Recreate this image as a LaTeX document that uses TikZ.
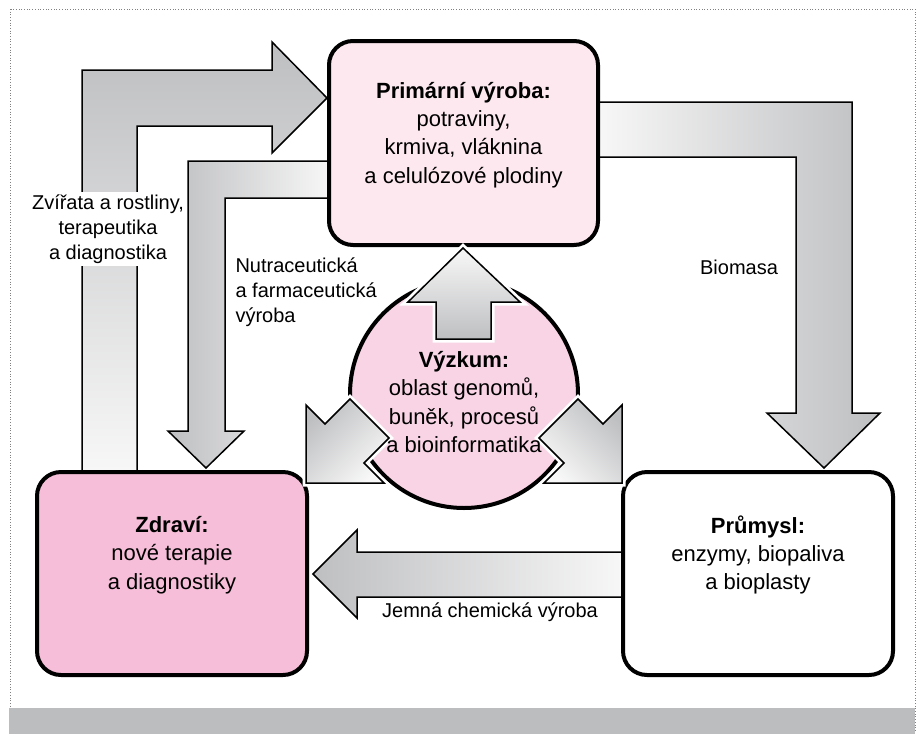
\documentclass[tikz,border=0pt]{standalone}
\usepackage{fontspec}
\setmainfont{Liberation Sans}
\definecolor{primpink}{HTML}{FDE8F0}
\definecolor{circpink}{HTML}{F9D4E5}
\definecolor{healthpink}{HTML}{F6BED8}
\definecolor{arrowgray}{HTML}{BEBFC1}
\definecolor{arrowlight}{HTML}{F8F8F8}
\definecolor{bandgray}{HTML}{BCBDBF}

\begin{document}
\begin{tikzpicture}[x=1pt, y=-1pt,
    sector/.style={draw, line width=4pt, rounded corners=24pt, minimum width=270pt, minimum height=203pt},
    boxtext/.style={align=center, font=\fontsize{22}{28.3}\selectfont},
    flowtext/.style={font=\fontsize{20}{25}\selectfont},
    blockarrow/.style={draw, line width=1.5pt, line join=miter},
    halo/.style={preaction={draw=white, line width=7pt, line join=miter}}]

    \useasboundingbox (0,0) rectangle (920,734);

    % Frame and grey band
    \draw[gray, dotted, line width=0.7pt] (10,9) rectangle (915,730);
    \fill[bandgray] (9,708) rectangle (915,734);

    % Health -> Primary (animals and plants)
    \draw[blockarrow, top color=arrowgray, bottom color=arrowlight]
        (82,478) -- (82,70) -- (272,70) -- (272,42) -- (327,98) -- (272,153)
        -- (272,126) -- (137,126) -- (137,478) -- cycle;

    % Primary -> Health (nutraceuticals)
    \draw[blockarrow, left color=arrowgray, right color=arrowlight]
        (333,161) -- (188,161) -- (188,431) -- (168,431) -- (206,468) -- (244,431)
        -- (225,431) -- (225,198) -- (333,198) -- cycle;

    % Primary -> Industry (biomass)
    \draw[blockarrow, left color=arrowlight, right color=arrowgray]
        (594,102) -- (852,102) -- (852,413) -- (880,413) -- (824,468) -- (767,413)
        -- (796,413) -- (796,157) -- (594,157) -- cycle;

    % Industry -> Health (fine chemicals)
    \draw[blockarrow, left color=arrowgray, right color=arrowlight]
        (627,552) -- (357,552) -- (357,530) -- (313,574) -- (357,618) -- (357,597)
        -- (627,597) -- cycle;

    % The three sectors
    \node[sector, fill=primpink, minimum width=269pt, minimum height=204pt] (primary) at (463.5,143) {};
    \node[sector, fill=healthpink] (health) at (172,573.5) {};
    \node[sector, fill=white] (industry) at (758,573.5) {};

    % Research in the middle
    \node[circle, draw, line width=4pt, fill=circpink, minimum size=228pt] (research) at (464,394) {};

    % Research -> Primary
    \draw[blockarrow, halo, top color=arrowlight, bottom color=arrowgray]
        (436,339) -- (436,302) -- (408,302) -- (463,248) -- (520,302) -- (491,302)
        -- (491,339) -- cycle;

    % Research -> Health
    \draw[blockarrow, halo, top color=arrowgray, bottom color=arrowlight, shading angle=45]
        (306,483) -- (306,405) -- (325,424) -- (350,399) -- (389,438) -- (364,463)
        -- (384,483) -- cycle;

    % Research -> Industry
    \draw[blockarrow, halo, top color=arrowgray, bottom color=arrowlight, shading angle=-45]
        (622,483) -- (622,405) -- (603,424) -- (578,399) -- (539,438) -- (564,463)
        -- (544,483) -- cycle;

    % Texts of the sectors
    \node[boxtext] (primtext) at (463.5,135) {\textbf{Primární výroba:}\\potraviny,\\krmiva, vláknina\\a celulózové plodiny};
    \node[boxtext] (healthtext) at (172,555) {\textbf{Zdraví:}\\nové terapie\\a diagnostiky};
    \node[boxtext] (industrytext) at (758,555) {\textbf{Průmysl:}\\enzymy, biopaliva\\a bioplasty};
    \node[boxtext] (researchtext) at (464,402) {\textbf{Výzkum:}\\oblast genomů,\\buněk, procesů\\a bioinformatika};

    % Flow labels
    \node[flowtext, align=center, fill=white, inner sep=3pt] (animals) at (108,229) {Zvířata a rostliny,\\terapeutika\\a diagnostika};
    \node[flowtext, align=left, anchor=west] (nutra) at (232,292) {Nutraceutická\\a farmaceutická\\výroba};
    \node[flowtext] (biomass) at (739,267) {Biomasa};
    \node[flowtext] (finechem) at (490,612) {Jemná chemická výroba};

\end{tikzpicture}
\end{document}
